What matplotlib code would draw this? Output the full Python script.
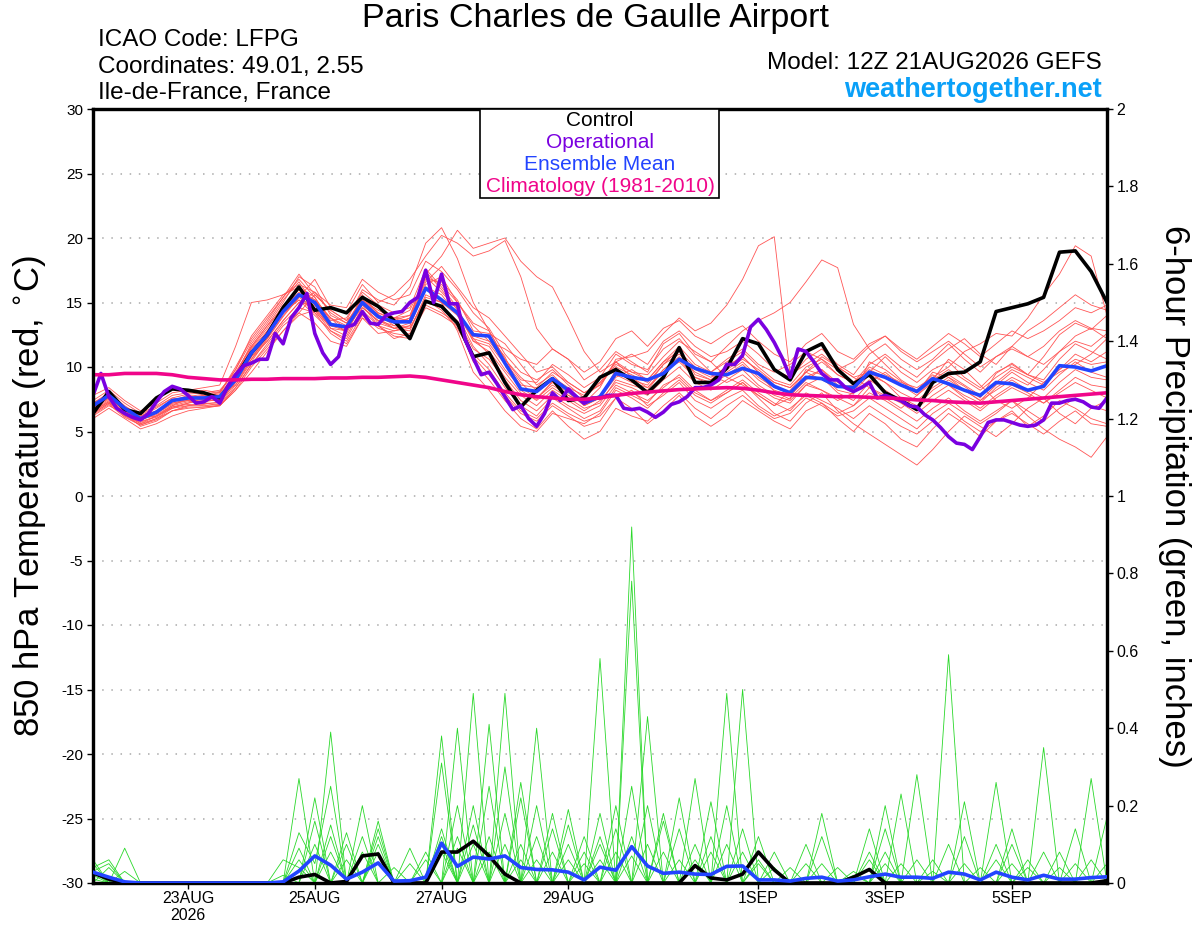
import numpy as np
import pandas as pd
import matplotlib
matplotlib.use("Agg")
import matplotlib.pyplot as plt
from matplotlib.patches import Rectangle

plt.rcParams["font.family"] = ["Liberation Sans", "DejaVu Sans"]

# 6-hourly GEFS steps from 12Z 21AUG2026, operational run 3-hourly
times = pd.date_range("2026-08-21 12:00", periods=65, freq="6h")
op_times = pd.date_range("2026-08-21 12:00", periods=129, freq="3h")

tick_dates = pd.to_datetime(["2026-08-23", "2026-08-25", "2026-08-27", "2026-08-29",
                             "2026-09-01", "2026-09-03", "2026-09-05"])
tick_labels = ["23AUG\n2026", "25AUG", "27AUG", "29AUG", "1SEP", "3SEP", "5SEP"]

temp_ticks = list(range(-30, 31, 5))
precip_ticks = [0, 0.2, 0.4, 0.6, 0.8, 1, 1.2, 1.4, 1.6, 1.8, 2]

control_t = [6.4, 8.1, 6.7, 6.4, 7.6, 8.3, 8.2, 8.0, 7.6, 9.2, 11.1, 12.5, 14.6,
             16.2, 14.4, 14.6, 14.2, 15.4, 14.7, 13.6, 12.2, 15.1, 14.7, 13.4, 10.8, 11.1,
             8.8, 6.9, 8.2, 9.1, 7.4, 7.6, 9.2, 9.8, 9.0, 8.0, 9.2, 11.5, 8.8,
             8.8, 9.9, 12.2, 11.8, 9.8, 9.0, 11.2, 11.8, 9.8, 8.7, 9.4, 8.0, 7.4,
             6.7, 8.8, 9.5, 9.6, 10.4, 14.3, 14.6, 14.9, 15.4, 18.9, 19.0, 17.4, 15.0]

mean_t = [7.0, 7.8, 6.8, 6.0, 6.5, 7.4, 7.6, 7.6, 7.7, 9.0, 11.1, 12.5, 14.3,
          15.6, 15.0, 13.3, 13.1, 15.0, 13.9, 13.5, 13.5, 16.1, 15.2, 14.2, 12.5, 12.4,
          10.3, 8.3, 8.1, 9.1, 8.2, 7.2, 7.7, 9.5, 9.2, 9.0, 9.5, 10.6, 9.9,
          9.5, 9.4, 9.9, 9.5, 8.5, 8.0, 9.2, 9.1, 8.5, 8.4, 9.6, 9.2, 8.6,
          8.1, 9.1, 8.7, 8.2, 7.8, 8.8, 8.7, 8.2, 8.5, 10.1, 10.0, 9.7, 10.1]

climo_t = [9.4, 9.4, 9.5, 9.5, 9.5, 9.4, 9.2, 9.1, 9.0, 9.0, 9.05, 9.05, 9.1,
           9.1, 9.1, 9.15, 9.15, 9.2, 9.2, 9.25, 9.3, 9.2, 9.0, 8.8, 8.6, 8.4,
           8.1, 7.85, 7.7, 7.6, 7.5, 7.5, 7.6, 7.8, 7.95, 8.05, 8.15, 8.25, 8.3,
           8.35, 8.4, 8.35, 8.2, 8.0, 7.85, 7.8, 7.75, 7.7, 7.7, 7.65, 7.6, 7.55,
           7.45, 7.4, 7.3, 7.25, 7.2, 7.3, 7.4, 7.5, 7.6, 7.7, 7.8, 7.9, 8.0]

oper_t = [7.8, 9.5, 7.7, 6.8, 6.4, 6.1, 5.9, 6.4, 7.3, 8.1, 8.5, 8.3, 7.8, 7.2, 7.3, 7.7,
          7.2, 8.5, 9.4, 10.1, 10.3, 10.6, 10.6, 12.6, 11.8, 13.8, 14.6, 15.7, 12.6, 11.1,
          10.2, 10.8, 13.1, 13.3, 14.3, 13.4, 13.3, 14.0, 14.2, 14.3, 15.0, 15.4, 17.5,
          15.0, 17.2, 14.9, 14.9, 12.1, 10.7, 9.4, 9.6,
          8.7, 7.7, 6.7, 7.0, 6.0, 5.4, 6.4, 8.0, 7.4, 8.3, 7.7, 7.2, 7.6, 7.6, 7.8, 7.8,
          6.8, 6.7, 6.8, 6.5, 6.1, 6.5, 7.1, 7.3, 7.7, 8.4, 8.4, 8.6, 9.0, 10.2, 10.2,
          10.9, 13.1, 13.7, 12.9, 11.9, 10.7, 9.2, 11.4, 11.2, 10.4, 9.5, 9.0, 9.0, 8.4,
          8.1, 8.4, 8.8, 7.6, 7.8, 7.6, 7.4, 7.0, 6.9, 6.3, 5.9, 5.3, 4.6, 4.1, 4.0, 3.6,
          4.6, 5.7, 5.9, 5.9, 5.7, 5.5, 5.4, 5.5, 5.9, 7.2, 7.2, 7.4, 7.5, 7.3, 6.9, 6.8, 7.6]

temp_members = [
    [6.8, 7.6, 6.6, 5.9, 6.3, 7.0, 7.3, 7.5, 7.4, 9.2, 11.5, 13.0, 14.8,
     16.0, 15.2, 13.8, 13.0, 15.6, 14.1, 13.2, 13.8, 17.0, 15.8, 14.5, 12.0, 11.2,
     9.6, 8.0, 7.5, 8.9, 8.0, 7.0, 7.6, 9.8, 9.0, 8.6, 10.2, 11.4, 9.4,
     9.0, 10.1, 10.8, 9.6, 8.1, 7.5, 9.8, 9.4, 8.2, 7.9, 10.4, 9.8, 8.9,
     8.0, 9.6, 9.2, 8.5, 7.6, 9.5, 10.3, 9.4, 10.8, 12.5, 13.4, 12.9, 14.0],
    [6.2, 7.0, 6.4, 5.6, 6.0, 6.8, 7.2, 7.6, 7.8, 8.6, 10.4, 12.2, 14.0,
     15.4, 16.8, 14.6, 14.2, 16.4, 15.0, 15.6, 16.8, 18.6, 20.2, 19.6, 18.6, 19.0,
     19.8, 17.0, 13.0, 11.4, 10.6, 9.0, 9.8, 11.2, 10.4, 9.6, 11.8, 12.6, 11.0,
     10.4, 9.2, 8.6, 7.8, 7.0, 8.2, 9.6, 10.8, 10.0, 9.2, 8.4, 7.6, 6.8,
     7.8, 9.0, 10.6, 9.8, 8.6, 7.4, 6.8, 7.6, 8.8, 9.6, 10.2, 11.0, 12.2],
    [7.2, 8.0, 7.0, 6.2, 6.8, 7.6, 7.4, 7.2, 7.0, 8.4, 10.2, 11.6, 13.2,
     14.2, 13.4, 12.0, 11.6, 13.8, 12.6, 12.8, 13.0, 15.2, 14.4, 13.0, 10.8, 9.4,
     7.8, 6.4, 5.8, 7.0, 6.2, 5.4, 5.8, 7.6, 6.8, 5.6, 6.6, 7.8, 6.2,
     5.4, 6.2, 7.4, 6.6, 5.8, 5.2, 6.6, 7.2, 6.0, 5.0, 6.4, 5.6, 4.4,
     3.8, 5.2, 6.4, 5.6, 4.6, 5.8, 6.6, 5.4, 6.2, 7.4, 6.8, 6.0, 5.6],
    [6.6, 7.4, 6.2, 5.8, 6.6, 7.4, 7.8, 7.6, 7.6, 9.4, 11.8, 13.4, 15.2,
     16.6, 14.8, 13.0, 12.4, 14.6, 13.6, 13.0, 13.4, 16.4, 17.0, 15.0, 13.2, 12.0,
     10.4, 8.8, 7.6, 8.6, 7.8, 7.2, 8.4, 10.6, 10.8, 11.2, 12.6, 13.8, 12.8,
     13.4, 14.8, 16.8, 19.4, 20.1, 9.4, 10.2, 11.0, 10.0, 9.2, 9.6, 10.8, 9.6,
     8.8, 9.8, 10.4, 9.2, 8.4, 9.6, 10.2, 9.4, 9.0, 10.6, 11.8, 11.2, 10.6],
    [7.0, 7.8, 6.8, 6.0, 6.2, 7.0, 7.6, 7.8, 8.0, 9.8, 12.4, 14.0, 15.6,
     16.2, 15.4, 13.6, 13.8, 15.8, 14.8, 14.2, 14.6, 17.6, 16.2, 14.6, 12.2, 11.8,
     10.2, 8.6, 8.4, 9.6, 8.8, 8.0, 8.6, 10.2, 9.6, 9.4, 10.8, 12.0, 11.2,
     10.4, 11.6, 12.8, 13.6, 14.2, 15.0, 16.6, 18.3, 17.7, 13.3, 11.4, 10.2, 9.0,
     8.2, 9.4, 8.6, 7.8, 7.2, 8.4, 9.2, 8.6, 9.8, 11.2, 12.4, 13.0, 12.2],
    [6.4, 7.2, 6.4, 5.4, 5.8, 6.6, 7.0, 7.2, 7.2, 8.8, 10.8, 12.0, 13.6,
     15.0, 15.8, 14.2, 13.4, 15.2, 14.4, 13.8, 14.0, 16.2, 15.6, 14.0, 11.6, 10.2,
     8.4, 7.0, 6.2, 7.6, 6.8, 6.0, 6.6, 8.4, 7.8, 7.2, 8.6, 9.2, 8.0,
     7.4, 8.0, 8.8, 7.6, 6.4, 5.8, 7.2, 8.0, 6.6, 5.6, 4.8, 4.0, 3.2,
     2.4, 3.6, 5.0, 6.2, 5.4, 4.6, 5.6, 6.8, 7.6, 6.4, 5.6, 6.8, 7.4],
    [7.4, 8.2, 7.2, 6.4, 7.0, 7.8, 8.0, 8.2, 8.0, 10.0, 12.2, 13.8, 15.4,
     17.2, 15.6, 14.4, 13.6, 16.0, 15.2, 14.8, 16.2, 19.6, 20.8, 18.4, 15.0, 12.8,
     10.6, 9.0, 8.8, 10.2, 9.4, 8.4, 9.2, 11.0, 10.2, 9.8, 11.4, 12.2, 10.8,
     9.6, 10.4, 11.2, 10.0, 9.0, 8.6, 10.0, 10.6, 9.4, 8.8, 10.2, 11.0, 10.0,
     9.2, 10.4, 11.4, 12.2, 11.0, 10.2, 11.6, 12.8, 13.6, 14.6, 15.6, 14.8, 14.4],
    [6.9, 7.7, 6.7, 6.1, 6.5, 7.2, 7.4, 7.3, 7.5, 9.0, 10.9, 12.8, 14.6,
     15.8, 15.2, 13.8, 12.6, 15.0, 13.4, 13.0, 12.8, 15.6, 15.0, 14.0, 12.6, 12.4,
     10.8, 8.2, 7.4, 8.4, 7.6, 6.8, 7.2, 9.0, 8.6, 8.2, 9.8, 10.8, 9.6,
     9.0, 9.8, 10.6, 9.8, 8.8, 8.4, 9.6, 9.0, 8.4, 8.6, 10.0, 9.4, 8.8,
     8.4, 9.2, 10.0, 11.2, 11.8, 12.6, 12.4, 13.8, 15.6, 17.2, 19.4, 18.6, 14.0],
    [6.0, 6.8, 6.0, 5.2, 5.6, 6.2, 6.6, 6.8, 7.0, 8.2, 10.0, 11.4, 12.8,
     14.0, 14.4, 12.8, 12.0, 14.0, 13.0, 12.6, 12.4, 14.6, 14.0, 13.2, 11.0, 9.8,
     8.0, 6.6, 6.0, 7.2, 6.4, 5.8, 6.2, 7.6, 8.2, 7.0, 7.8, 8.8, 7.4,
     6.8, 7.6, 8.2, 7.0, 6.2, 6.8, 7.8, 7.2, 6.4, 7.0, 8.0, 7.4, 6.6,
     5.8, 6.8, 7.6, 6.6, 5.8, 6.6, 7.4, 6.2, 5.2, 4.4, 3.8, 3.0, 4.6],
    [7.8, 8.4, 7.4, 6.6, 7.2, 8.0, 8.2, 8.4, 8.6, 11.6, 15.0, 15.2, 15.6,
     16.4, 15.8, 14.8, 14.6, 16.8, 15.8, 15.2, 15.6, 18.2, 17.4, 16.0, 14.2, 13.0,
     11.0, 9.6, 9.0, 9.8, 8.6, 7.6, 8.8, 10.4, 11.0, 10.2, 12.0, 12.8, 11.6,
     10.8, 11.2, 12.0, 11.0, 9.8, 9.2, 10.6, 11.4, 10.2, 9.4, 11.0, 11.8, 10.6,
     9.8, 10.6, 11.8, 10.6, 9.6, 10.8, 11.4, 10.8, 11.6, 12.8, 13.6, 13.0, 12.8],
    [6.8, 7.6, 6.6, 5.9, 6.4, 7.2, 7.5, 7.7, 7.8, 9.4, 11.4, 12.8, 14.4,
     15.6, 14.2, 13.2, 12.8, 15.2, 14.2, 13.6, 14.0, 17.2, 18.6, 20.6, 19.2, 19.6,
     20.0, 18.2, 17.0, 16.2, 13.8, 11.2, 9.6, 10.4, 9.2, 8.4, 9.8, 10.6, 9.2,
     8.6, 9.4, 10.2, 9.0, 8.2, 7.8, 9.0, 9.8, 8.6, 8.0, 9.4, 8.8, 7.6,
     7.0, 8.2, 9.0, 8.2, 7.4, 8.6, 9.6, 8.8, 8.2, 9.4, 10.4, 9.6, 9.2],
    [7.2, 7.9, 6.9, 6.3, 6.9, 7.6, 7.9, 8.0, 8.2, 9.6, 11.6, 13.2, 15.0,
     17.0, 16.2, 14.0, 13.4, 15.4, 14.6, 13.8, 13.6, 16.8, 16.6, 15.2, 12.8, 12.6,
     11.8, 10.2, 8.6, 9.4, 8.2, 7.0, 7.6, 9.2, 9.8, 9.0, 10.4, 11.2, 10.0,
     9.4, 8.8, 9.4, 8.4, 7.6, 7.2, 8.6, 9.2, 8.0, 7.4, 8.8, 9.6, 8.6,
     7.8, 8.8, 9.4, 8.6, 7.8, 8.8, 9.8, 9.2, 8.6, 9.8, 11.0, 10.4, 11.2],
    [6.5, 7.3, 6.3, 5.6, 6.2, 6.9, 7.1, 7.0, 7.1, 8.6, 10.6, 12.4, 14.2,
     15.2, 14.0, 12.8, 12.2, 14.4, 13.2, 12.4, 12.2, 15.0, 14.6, 13.6, 11.4, 10.6,
     9.0, 7.4, 6.6, 7.8, 7.0, 6.4, 7.0, 8.6, 8.0, 7.4, 8.4, 9.4, 8.2,
     7.4, 8.2, 9.0, 8.0, 7.2, 6.6, 8.0, 7.4, 6.8, 6.0, 7.0, 6.2, 5.4,
     4.8, 5.8, 6.8, 5.8, 5.0, 5.8, 6.4, 5.6, 4.8, 5.8, 6.6, 5.6, 5.4],
    [7.1, 7.8, 6.7, 6.0, 6.5, 7.3, 7.7, 7.9, 8.1, 9.8, 12.0, 13.6, 15.4,
     16.8, 15.4, 13.4, 12.8, 15.2, 14.0, 13.4, 13.8, 17.4, 16.0, 14.4, 12.4, 12.0,
     11.4, 10.6, 10.2, 11.4, 10.6, 9.6, 10.4, 12.2, 12.8, 11.6, 13.0, 13.6, 12.4,
     11.8, 12.6, 13.2, 12.0, 11.0, 10.4, 11.8, 12.6, 11.2, 10.6, 11.8, 12.4, 11.2,
     10.4, 11.2, 12.0, 11.0, 10.0, 10.8, 11.6, 10.8, 10.2, 11.2, 12.0, 11.6, 12.6],
    [6.7, 7.5, 6.5, 5.8, 6.1, 6.9, 7.2, 7.4, 7.4, 8.9, 10.8, 12.2, 13.9,
     15.4, 14.6, 13.0, 12.8, 14.8, 13.2, 12.8, 13.2, 16.0, 15.2, 14.2, 12.2, 11.0,
     9.2, 7.8, 7.0, 8.2, 7.4, 6.6, 7.4, 8.8, 8.4, 7.8, 9.0, 10.0, 8.8,
     8.2, 9.0, 9.8, 8.6, 7.8, 7.4, 8.6, 8.2, 7.6, 7.0, 8.4, 7.8, 7.2,
     6.4, 7.4, 8.2, 7.4, 6.6, 7.6, 8.4, 7.8, 7.2, 8.2, 9.2, 8.6, 8.4],
    [6.3, 7.1, 6.1, 5.5, 6.0, 6.6, 6.9, 6.9, 7.0, 8.4, 10.2, 11.8, 13.4,
     14.6, 14.2, 12.6, 11.8, 13.8, 13.2, 12.2, 12.6, 14.8, 14.2, 13.4, 10.4, 9.0,
     7.4, 6.0, 5.2, 6.6, 5.4, 4.4, 5.0, 6.8, 6.2, 5.8, 7.0, 8.0, 6.8,
     6.0, 7.0, 7.8, 6.8, 6.0, 6.4, 7.6, 7.0, 6.2, 6.6, 7.6, 6.8, 6.0,
     5.2, 6.4, 7.2, 6.4, 5.6, 6.4, 7.4, 6.6, 5.8, 6.8, 7.6, 7.0, 6.6],
    [7.0, 7.7, 6.9, 6.2, 6.6, 7.3, 7.6, 7.8, 7.9, 9.5, 11.6, 13.2, 14.6,
     16.2, 15.0, 13.8, 13.2, 15.4, 14.2, 13.8, 14.4, 17.0, 16.4, 15.0, 13.4, 12.8,
     10.6, 9.2, 8.2, 9.2, 8.4, 7.8, 8.6, 10.4, 9.6, 9.0, 10.4, 11.6, 10.2,
     9.6, 10.6, 11.4, 10.2, 9.6, 10.2, 11.2, 10.6, 9.8, 10.4, 11.6, 12.4, 11.4,
     10.6, 11.6, 12.6, 11.8, 10.8, 11.8, 12.8, 12.2, 12.8, 13.6, 14.6, 14.2, 14.8],
    [6.6, 7.3, 6.3, 5.7, 6.2, 6.8, 7.0, 7.1, 7.3, 8.8, 10.6, 12.0, 13.6,
     15.0, 14.8, 13.4, 13.0, 14.6, 13.6, 13.2, 13.0, 15.4, 15.0, 14.2, 12.0, 11.6,
     9.8, 8.4, 7.6, 8.8, 7.8, 7.2, 7.8, 9.4, 8.8, 8.4, 9.6, 10.4, 9.2,
     8.8, 9.6, 10.4, 9.2, 8.4, 8.0, 9.2, 9.8, 8.8, 8.2, 9.6, 8.8, 8.0,
     7.4, 8.4, 9.2, 8.2, 7.4, 8.2, 9.0, 8.2, 7.6, 8.8, 9.8, 9.2, 9.0],
    [6.9, 7.6, 6.8, 6.0, 6.4, 7.1, 7.4, 7.5, 7.6, 9.1, 11.0, 12.6, 14.2,
     15.2, 14.4, 13.2, 13.0, 15.0, 13.8, 13.0, 13.2, 16.2, 15.0, 12.8, 9.6, 8.2,
     6.6, 5.4, 5.0, 6.4, 6.0, 5.6, 6.4, 8.2, 7.6, 6.8, 8.0, 9.0, 7.8,
     7.2, 8.0, 8.8, 7.8, 7.0, 7.6, 8.8, 8.2, 7.4, 8.0, 9.0, 8.2, 7.4,
     6.8, 7.8, 8.6, 7.6, 6.8, 7.8, 8.6, 8.0, 7.2, 8.0, 8.8, 8.2, 7.6],
    [6.4, 7.2, 6.2, 5.5, 5.9, 6.6, 6.8, 6.9, 7.0, 8.2, 9.6, 11.2, 12.8,
     14.2, 15.6, 14.4, 13.6, 14.8, 13.8, 13.4, 13.6, 16.6, 17.8, 16.2, 14.6, 13.8,
     12.4, 11.0, 9.6, 10.0, 8.8, 8.0, 8.8, 10.0, 9.4, 8.8, 10.2, 11.0, 9.8,
     9.2, 10.0, 10.8, 9.6, 8.8, 8.4, 9.6, 10.4, 9.4, 8.8, 9.8, 9.2, 8.6,
     8.0, 9.0, 9.8, 9.0, 8.2, 9.2, 10.0, 9.4, 8.8, 9.8, 10.6, 10.2, 10.4],
]

control_p = [0.026, 0.01, 0, 0, 0, 0, 0, 0, 0, 0, 0, 0, 0,
             0.015, 0.022, 0, 0.004, 0.07, 0.075, 0, 0, 0, 0.08, 0.08, 0.108, 0.07,
             0.023, 0, 0, 0, 0, 0, 0, 0, 0, 0, 0, 0, 0.045,
             0.013, 0.008, 0.023, 0.08, 0.034, 0, 0, 0, 0, 0.015, 0.035, 0, 0,
             0, 0, 0, 0, 0, 0, 0, 0, 0, 0, 0, 0, 0.006]

mean_p = [0.028, 0.015, 0.003, 0, 0, 0, 0, 0, 0, 0, 0, 0, 0.003,
          0.031, 0.07, 0.046, 0.01, 0.028, 0.052, 0.005, 0.006, 0.015, 0.103, 0.043, 0.067, 0.062,
          0.07, 0.04, 0.035, 0.034, 0.028, 0.008, 0.041, 0.033, 0.094, 0.044, 0.025, 0.028, 0.023,
          0.022, 0.043, 0.044, 0.008, 0.008, 0.005, 0.012, 0.015, 0.005, 0.008, 0.016, 0.023, 0.015,
          0.015, 0.012, 0.028, 0.023, 0.008, 0.028, 0.015, 0.008, 0.02, 0.01, 0.01, 0.014, 0.016]

precip_members = [
    [.06, 0, .03, 0, 0, 0, 0, 0, 0, 0, 0, 0, .02,
     0, 0, 0, 0, .08, 0, 0, 0, 0, .14, 0, 0, 0,
     0, .06, 0, 0, 0, .05, 0, 0, 0, 0, 0, .06, 0,
     0, 0, 0, 0, 0, 0, 0, .05, 0, 0, 0, 0, 0,
     0, 0, 0, .05, 0, 0, 0, 0, 0, 0, 0, 0, 0],
    [.04, .06, 0, 0, 0, 0, 0, 0, 0, 0, 0, 0, 0,
     .13, .05, .25, 0, 0, .12, 0, 0, 0, .08, 0, 0, 0,
     0, 0, .12, 0, 0, 0, .1, 0, 0, 0, 0, 0, .1,
     0, 0, 0, 0, 0, 0, 0, 0, 0, .02, 0, 0, 0,
     0, 0, 0, 0, 0, .1, 0, 0, 0, 0, 0, 0, 0],
    [.03, .05, 0, 0, 0, 0, 0, 0, 0, 0, 0, 0, 0,
     .09, 0, .39, 0, 0, .08, 0, 0, 0, 0, .2, 0, 0,
     0, 0, 0, .08, 0, 0, 0, .14, 0, 0, 0, 0, 0,
     .12, 0, 0, 0, 0, 0, 0, 0, 0, 0, .08, 0, 0,
     0, 0, 0, 0, 0, 0, .14, 0, 0, 0, 0, 0, 0],
    [.02, 0, .09, 0, 0, 0, 0, 0, 0, 0, 0, 0, 0,
     .06, 0, .08, 0, 0, 0, .04, 0, 0, 0, 0, .49, 0,
     0, 0, 0, 0, .1, 0, 0, 0, .07, 0, 0, 0, 0,
     0, .2, 0, 0, 0, 0, 0, 0, 0, 0, 0, .14, 0,
     0, 0, 0, 0, 0, 0, .05, 0, 0, 0, 0, 0, 0],
    [.05, 0, 0, 0, 0, 0, 0, 0, 0, 0, 0, 0, .06,
     .04, 0, 0, .06, 0, 0, 0, .05, 0, 0, 0, 0, .41,
     0, 0, 0, 0, 0, .08, 0, 0, 0, .1, 0, 0, 0,
     0, 0, .14, 0, 0, 0, 0, 0, 0, 0, 0, .05, 0,
     0, 0, 0, 0, 0, 0, 0, .06, 0, 0, 0, 0, 0],
    [.01, 0, 0, 0, 0, 0, 0, 0, 0, 0, 0, 0, 0,
     0, .22, 0, .13, 0, 0, 0, 0, 0, .12, 0, 0, 0,
     .49, 0, 0, 0, 0, 0, .12, 0, 0, 0, .08, 0, 0,
     0, 0, 0, .06, 0, 0, 0, 0, 0, 0, 0, 0, .23,
     0, 0, 0, 0, 0, 0, 0, 0, .35, 0, 0, 0, 0],
    [.03, 0, 0, 0, 0, 0, 0, 0, 0, 0, 0, 0, 0,
     0, .16, 0, 0, .2, 0, 0, 0, 0, 0, .12, 0, 0,
     0, .26, 0, 0, 0, 0, 0, .08, 0, 0, 0, 0, 0,
     0, 0, 0, .05, 0, 0, 0, 0, 0, 0, 0, 0, .05,
     0, 0, 0, 0, 0, 0, 0, 0, .08, 0, 0, 0, 0],
    [0, .04, 0, 0, 0, 0, 0, 0, 0, 0, 0, 0, 0,
     0, .1, 0, 0, 0, .16, 0, 0, 0, 0, 0, .2, 0,
     0, 0, .4, 0, 0, 0, 0, 0, .12, 0, 0, 0, 0,
     0, 0, 0, 0, .08, 0, 0, 0, 0, 0, 0, 0, 0,
     .28, 0, 0, 0, 0, 0, 0, 0, 0, .08, 0, 0, 0],
    [0, 0, 0, 0, 0, 0, 0, 0, 0, 0, 0, 0, 0,
     .27, 0, 0, 0, 0, .1, 0, 0, 0, 0, 0, .1, 0,
     0, 0, 0, .18, 0, 0, 0, 0, 0, .2, 0, 0, 0,
     0, 0, 0, 0, .04, 0, 0, 0, 0, 0, 0, 0, 0,
     .06, 0, 0, 0, 0, 0, 0, 0, 0, .04, 0, 0, 0],
    [0, 0, 0, 0, 0, 0, 0, 0, 0, 0, 0, 0, 0,
     0, 0, .15, 0, 0, 0, 0, .09, 0, 0, 0, 0, .12,
     0, 0, 0, 0, .19, 0, 0, 0, 0, 0, .16, 0, 0,
     0, 0, 0, 0, 0, .04, 0, 0, 0, 0, 0, 0, 0,
     0, .06, 0, 0, 0, 0, 0, 0, 0, 0, .14, 0, 0],
    [0, 0, 0, 0, 0, 0, 0, 0, 0, 0, 0, 0, 0,
     0, 0, .12, 0, 0, 0, 0, 0, .06, 0, 0, 0, 0,
     .18, 0, 0, 0, 0, .12, 0, 0, 0, 0, 0, .14, 0,
     0, 0, 0, 0, 0, 0, .1, 0, 0, 0, 0, 0, 0,
     0, .03, 0, 0, 0, 0, 0, 0, 0, 0, .05, 0, 0],
    [0, 0, 0, 0, 0, 0, 0, 0, 0, 0, 0, 0, 0,
     0, 0, 0, .1, 0, 0, 0, 0, 0, .38, 0, 0, .08,
     0, 0, 0, 0, 0, 0, .58, 0, 0, 0, 0, 0, .27,
     0, 0, 0, 0, 0, 0, .05, 0, 0, 0, 0, 0, 0,
     0, 0, .59, 0, 0, 0, 0, 0, 0, 0, 0, .27, 0],
    [0, 0, 0, 0, 0, 0, 0, 0, 0, 0, 0, 0, 0,
     0, 0, 0, 0, .12, 0, 0, 0, 0, .1, 0, 0, 0,
     .1, 0, 0, 0, 0, 0, .18, 0, 0, 0, 0, 0, .06,
     0, 0, 0, 0, 0, 0, 0, .18, 0, 0, 0, 0, 0,
     0, 0, .1, 0, 0, 0, 0, 0, 0, 0, 0, .06, 0],
    [0, 0, 0, 0, 0, 0, 0, 0, 0, 0, 0, 0, 0,
     0, 0, 0, 0, 0, .14, 0, 0, 0, 0, .09, 0, 0,
     0, .1, 0, 0, 0, 0, 0, .2, 0, 0, 0, 0, 0,
     .21, 0, 0, 0, 0, 0, 0, .12, 0, 0, 0, 0, 0,
     0, 0, 0, .21, 0, 0, 0, 0, 0, 0, 0, 0, .17],
    [0, 0, 0, 0, 0, 0, 0, 0, 0, 0, 0, 0, 0,
     0, 0, 0, 0, 0, 0, 0, 0, .08, 0, 0, 0, 0,
     0, .22, 0, 0, 0, 0, .06, 0, .25, 0, 0, 0, 0,
     .08, 0, 0, 0, 0, 0, 0, 0, .04, 0, 0, 0, 0,
     0, 0, 0, .12, 0, 0, 0, 0, 0, 0, 0, 0, .05],
    [0, 0, 0, 0, 0, 0, 0, 0, 0, 0, 0, 0, 0,
     0, 0, 0, 0, 0, 0, 0, 0, 0, .31, 0, 0, 0,
     0, 0, .2, 0, 0, 0, 0, 0, .92, 0, 0, 0, 0,
     0, .49, 0, 0, 0, 0, 0, 0, 0, .03, 0, 0, 0,
     0, 0, 0, 0, .04, 0, 0, 0, 0, 0, 0, 0, 0],
    [0, 0, 0, 0, 0, 0, 0, 0, 0, 0, 0, 0, 0,
     0, 0, 0, 0, 0, 0, 0, 0, 0, 0, .4, 0, 0,
     0, 0, .06, 0, 0, 0, 0, 0, .78, 0, 0, 0, 0,
     0, .1, 0, 0, 0, 0, 0, 0, 0, 0, .14, 0, 0,
     0, 0, 0, 0, 0, .26, 0, 0, 0, 0, 0, 0, 0],
    [0, 0, 0, 0, 0, 0, 0, 0, 0, 0, 0, 0, 0,
     0, 0, 0, 0, 0, 0, 0, 0, 0, 0, 0, .15, 0,
     0, 0, 0, .14, 0, 0, 0, 0, 0, .43, 0, 0, 0,
     0, 0, .5, 0, 0, 0, 0, 0, 0, 0, .06, 0, 0,
     0, 0, 0, 0, 0, .06, 0, 0, 0, 0, 0, 0, 0],
    [0, 0, 0, 0, 0, 0, 0, 0, 0, 0, 0, 0, 0,
     0, 0, 0, 0, 0, 0, 0, 0, 0, 0, 0, 0, .25,
     0, 0, 0, 0, .15, 0, 0, 0, 0, 0, .18, 0, 0,
     0, 0, .08, 0, 0, 0, 0, 0, 0, 0, 0, .2, 0,
     0, 0, 0, 0, 0, 0, .1, 0, 0, 0, 0, 0, 0],
    [0, 0, 0, 0, 0, 0, 0, 0, 0, 0, 0, 0, 0,
     0, 0, 0, 0, 0, 0, 0, 0, 0, 0, 0, 0, 0,
     .3, 0, 0, 0, .06, 0, 0, 0, 0, 0, 0, .22, 0,
     0, 0, 0, .12, 0, 0, 0, 0, 0, 0, 0, .08, 0,
     0, 0, 0, 0, 0, 0, 0, .04, 0, 0, 0, 0, 0],
]


def fig_xy(x, y):
    # pixel position on the 1200x927 canvas -> figure fraction
    return x / 1200, 1 - y / 927


def main() -> None:
    fig = plt.figure(figsize=(12, 9.27), dpi=100)
    ax = fig.add_axes([93 / 1200, 44 / 927, 1014 / 1200, 774 / 927])
    ax2 = ax.twinx()

    for member in temp_members:
        ax.plot(times, member, color="#ff5555", lw=0.6, zorder=2)
    ax.plot(times, control_t, color="black", lw=2.6, zorder=4)
    ax.plot(times, mean_t, color="#2244ff", lw=2.6, zorder=5)
    ax.plot(op_times, oper_t, color="#7a00e0", lw=2.6, zorder=6)
    ax.plot(times, climo_t, color="#f0058a", lw=2.6, zorder=7)

    for member in precip_members:
        ax2.plot(times, member, color="#2ad82a", lw=0.6, zorder=2)
    ax2.plot(times, control_p, color="black", lw=2.6, zorder=4)
    ax2.plot(times, mean_p, color="#2244ff", lw=2.6, zorder=5)

    for level in range(-25, 30, 5):
        ax.axhline(level, color="#aaaaaa", lw=1.1, ls=(0, (1, 5)), zorder=1)

    ax.set_xlim(times[0], times[-1])
    ax.set_ylim(-30, 30)
    ax2.set_ylim(0, 2)

    ax.set_yticks(temp_ticks)
    ax.set_yticklabels([str(t) for t in temp_ticks])
    ax2.set_yticks(precip_ticks)
    ax2.set_yticklabels([f"{p:g}" for p in precip_ticks])
    ax.set_xticks(tick_dates)
    ax.set_xticklabels(tick_labels, linespacing=1.1)
    ax.tick_params(axis="y", direction="out", length=4, width=1, labelsize=11, pad=3)
    ax2.tick_params(axis="y", direction="out", length=4, width=1, labelsize=11.5, pad=3)
    ax.tick_params(axis="x", direction="out", length=4, width=1, labelsize=11.5, pad=2)

    for a in (ax, ax2):
        for spine in a.spines.values():
            spine.set_linewidth(2.3)

    fig.text(*fig_xy(595, 19), "Paris Charles de Gaulle Airport", fontsize=24.5,
             ha="center", va="center")
    info = ["ICAO Code: LFPG", "Coordinates: 49.01, 2.55", "Ile-de-France, France"]
    for k, line in enumerate(info):
        fig.text(*fig_xy(98, 40 + 26.5 * k), line, fontsize=17.5, ha="left", va="center")
    fig.text(*fig_xy(1102, 63), "Model: 12Z 21AUG2026 GEFS", fontsize=17.5,
             ha="right", va="center")
    fig.text(*fig_xy(1102, 90), "weathertogether.net", fontsize=19.5, fontweight="bold",
             color="#0aa0f8", ha="right", va="center")

    # legend box sits on the top spine
    x0, y0 = fig_xy(480, 198)
    x1, y1 = fig_xy(719, 109)
    fig.patches.append(Rectangle((x0, y0), x1 - x0, y1 - y0, transform=fig.transFigure,
                                 facecolor="white", edgecolor="black", lw=1.2, zorder=5))
    legend_items = [("Control", "black"), ("Operational", "#7a00e0"),
                    ("Ensemble Mean", "#2244ff"), ("Climatology (1981-2010)", "#f0058a")]
    for k, (label, color) in enumerate(legend_items):
        fig.text(*fig_xy(600, 121 + 21.8 * k), label, fontsize=15, color=color,
                 ha="center", va="center", zorder=6)

    fig.text(*fig_xy(30, 496), "850 hPa Temperature (red, $^{\\circ}$C)", fontsize=25,
             rotation=90, ha="center", va="center")
    fig.text(*fig_xy(1175, 496), "6-hour Precipitation (green, inches)", fontsize=25,
             rotation=270, ha="center", va="center")

    fig.savefig("out.png", dpi=100)
    plt.close(fig)


if __name__ == "__main__":
    main()
